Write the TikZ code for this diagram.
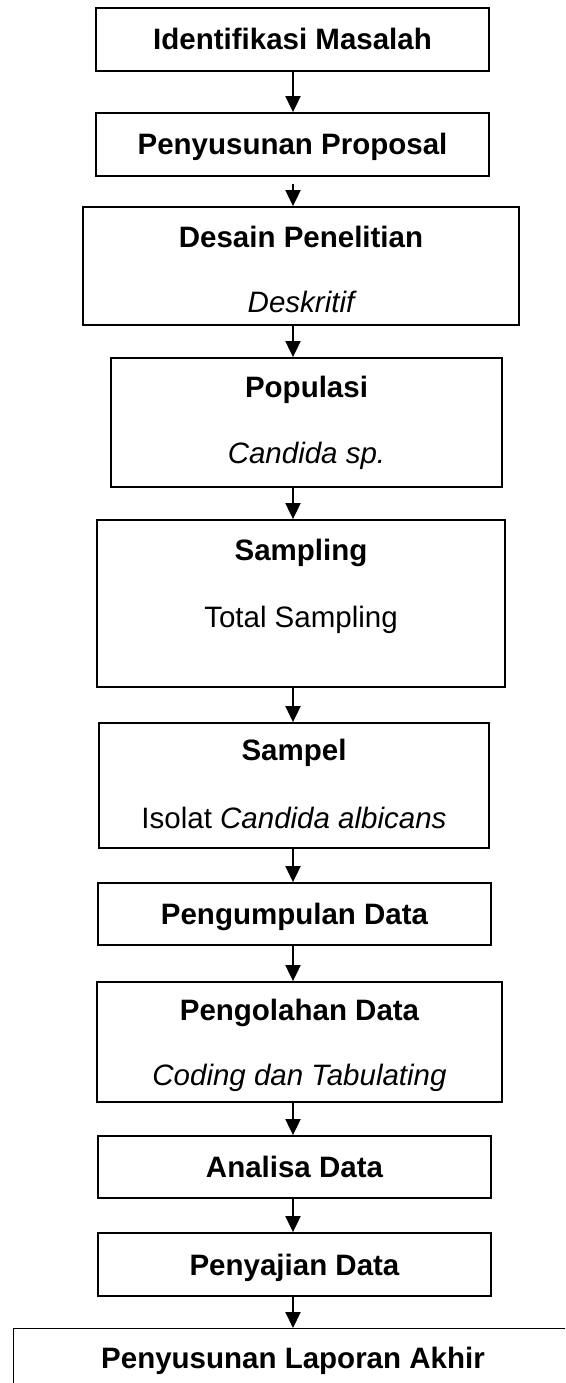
\documentclass[tikz,border=0pt]{standalone}
\usepackage{fontspec}
\setmainfont{Liberation Sans}
\usetikzlibrary{arrows.meta}
\begin{document}
\begin{tikzpicture}[x=1pt,y=-1pt,
    stepbox/.style={draw, line width=1.8pt, inner sep=0pt},
    headtext/.style={font=\fontsize{29.5}{35}\selectfont\bfseries, inner sep=0pt, text height=24pt, text depth=3pt},
    bodytext/.style={font=\fontsize{29.5}{35}\selectfont, inner sep=0pt, text height=24pt, text depth=3pt},
    arr/.style={line width=1.9pt, -{Triangle[length=16pt,width=15pt]}}]
  \useasboundingbox (0,0) rectangle (565,1383);
  \clip (0,0) rectangle (565,1383);
  \coordinate (axis) at (293,0);
  % boxes
  \node[stepbox, minimum width=393pt, minimum height=63pt] (b1) at (292.5,39.5) {};
  \node[stepbox, minimum width=393pt, minimum height=63pt] (b2) at (292.5,144.5) {};
  \node[stepbox, minimum width=436pt, minimum height=118pt] (b3) at (301,266) {};
  \node[stepbox, minimum width=391pt, minimum height=129pt] (b4) at (306.5,422.5) {};
  \node[stepbox, minimum width=408pt, minimum height=167pt] (b5) at (301,603.5) {};
  \node[stepbox, minimum width=390pt, minimum height=125pt] (b6) at (294,785.5) {};
  \node[stepbox, minimum width=393pt, minimum height=62pt] (b7) at (294.5,914) {};
  \node[stepbox, minimum width=405pt, minimum height=120pt] (b8) at (299.5,1042) {};
  \node[stepbox, minimum width=393pt, minimum height=62pt] (b9) at (294.5,1167) {};
  \node[stepbox, minimum width=393pt, minimum height=63pt] (b10) at (294.5,1264.5) {};
  \node[stepbox, line width=1.2pt, minimum width=600pt, minimum height=100pt, anchor=north west] (b11) at (13,1328) {};
  % texts
  \node[headtext] (t1) at (b1) {Identifikasi Masalah};
  \node[headtext] (t2) at (b2) {Penyusunan Proposal};
  \node[headtext] (t3) at (301,237) {Desain Penelitian};
  \node[bodytext] (s3) at (301,302) {\itshape Deskritif};
  \node[headtext] (t4) at (306.5,387) {Populasi};
  \node[bodytext] (s4) at (306.5,453) {\itshape Candida sp.};
  \node[headtext] (t5) at (301,550) {Sampling};
  \node[bodytext] (s5) at (301,617) {Total Sampling};
  \node[headtext] (t6) at (294,750) {Sampel};
  \node[bodytext] (s6) at (294,818) {Isolat \textit{Candida albicans}};
  \node[headtext] (t7) at (b7) {Pengumpulan Data};
  \node[headtext] (t8) at (299.5,1010) {Pengolahan Data};
  \node[bodytext] (s8) at (299.5,1075) {\itshape Coding dan Tabulating};
  \node[headtext] (t9) at (b9) {Analisa Data};
  \node[headtext] (t10) at (b10) {Penyajian Data};
  \node[headtext] (t11) at (293,1358) {Penyusunan Laporan Akhir};
  % arrows
  \draw[arr, shorten <=7pt] (b2.south -| axis) -- (b3.north -| axis);
  \foreach \a/\b in {b1/b2, b3/b4, b4/b5, b5/b6, b6/b7, b7/b8, b8/b9, b9/b10, b10/b11}{
    \draw[arr] (\a.south -| axis) -- (\b.north -| axis);
  }
\end{tikzpicture}
\end{document}
